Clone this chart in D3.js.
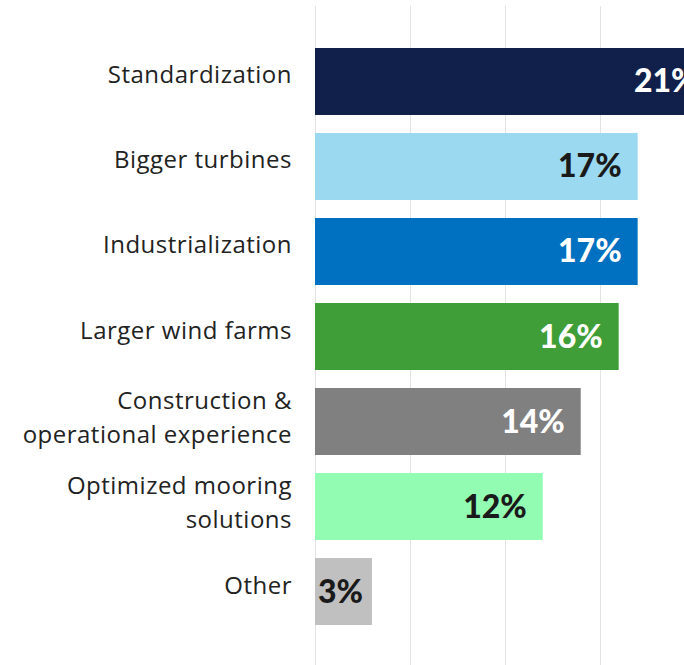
<!DOCTYPE html>
<html>
<head>
<meta charset="utf-8">
<script src="https://cdn.jsdelivr.net/npm/d3@7"></script>
<style>
  body { margin: 0; background: #fff; }
  svg { display: block; }
</style>
</head>
<body>
<div id="chart"></div>
<script>
var width = 684;
var height = 665;

// data
var categories = ["Standardization", "Bigger turbines", "Industrialization", "Larger wind farms",
  "Construction &\noperational experience", "Optimized mooring\nsolutions", "Other"];
var values = [21, 17, 17, 16, 14, 12, 3];
var barColors = ["#11204b", "#9bd9f0", "#0070c0", "#3f9e37", "#808080", "#93fcb3", "#c0c0c0"];
var labelColors = ["#fff", "#1a1a1a", "#fff", "#fff", "#fff", "#1a1a1a", "#1a1a1a"];
var gridTicks = [0, 5, 10, 15, 20];

var svg = d3.select("#chart")
  .append("svg")
  .attr("width", width)
  .attr("height", height);

var x = d3.scaleLinear()
  .domain([0, 20])
  .range([315, 694.6]);

var y = d3.scaleBand()
  .domain(categories)
  .range([48, 625])
  .paddingInner(0.212)
  .paddingOuter(0);

// gridlines
svg.append("g")
  .selectAll("line")
  .data(gridTicks)
  .enter().append("line")
    .attr("x1", function(d) { return Math.round(x(d)) + 0.5; })
    .attr("x2", function(d) { return Math.round(x(d)) + 0.5; })
    .attr("y1", 6)
    .attr("y2", height)
    .attr("stroke", "#e3e3e3")
    .attr("stroke-width", 1);

// bars
svg.append("g")
  .selectAll("rect")
  .data(values)
  .enter().append("rect")
    .attr("x", x(0))
    .attr("y", function(d, i) { return y(categories[i]); })
    .attr("width", function(d) { return x(d) - x(0); })
    .attr("height", y.bandwidth())
    .attr("fill", function(d, i) { return barColors[i]; });

// value labels
svg.append("g")
  .selectAll("text")
  .data(values)
  .enter().append("text")
    .attr("x", function(d) { return d < 5 ? x(0) + 3 : x(d) - 16; })
    .attr("y", function(d, i) { return y(categories[i]) + y.bandwidth() / 2 + 11; })
    .attr("text-anchor", function(d) { return d < 5 ? "start" : "end"; })
    .attr("fill", function(d, i) { return labelColors[i]; })
    .style("font-family", "Lato, sans-serif")
    .style("font-weight", 900)
    .style("font-size", "32px")
    .text(function(d) { return d + "%"; });

// category labels
var cat = svg.append("g")
  .selectAll("text")
  .data(categories)
  .enter().append("text")
    .attr("text-anchor", "end")
    .attr("fill", "#222")
    .style("font-family", "'Open Sans', sans-serif")
    .style("font-size", "24px")
    .style("letter-spacing", "0.5px")
    .attr("y", function(d) {
      var c = y(d) + y.bandwidth() / 2;
      var lines = d.split("\n");
      return lines.length > 1 ? c - 13 : c + 2;
    });

cat.selectAll("tspan")
  .data(function(d) { return d.split("\n"); })
  .enter().append("tspan")
    .attr("x", 292)
    .attr("dy", function(d, i) { return i === 0 ? 0 : 34; })
    .text(function(d) { return d; });
</script>
</body>
</html>
